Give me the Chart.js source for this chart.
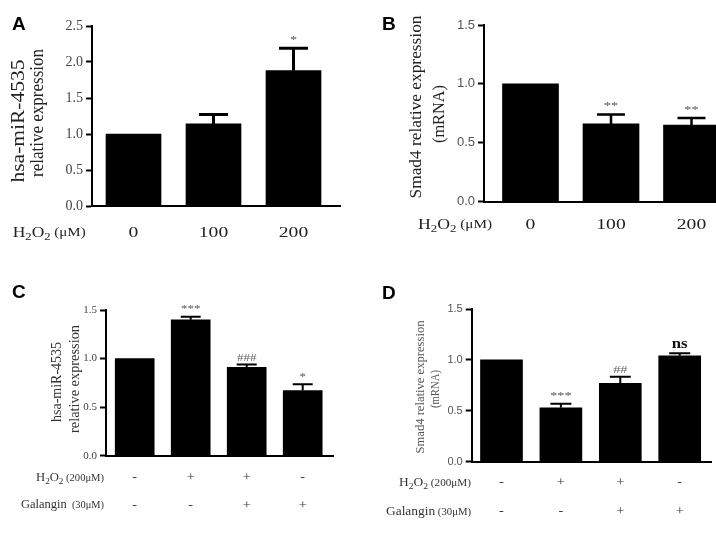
<!DOCTYPE html>
<html>
<head>
<meta charset="utf-8">
<script src="https://cdn.jsdelivr.net/npm/chart.js@4.4.1/dist/chart.umd.min.js"></script>
<style>
  html, body { margin: 0; padding: 0; background: #fff; }
  #wrap { position: relative; width: 716px; height: 536px; }
  #wrap canvas { position: absolute; left: 0; top: 0; }
</style>
</head>
<body>
<div id="wrap">
  <canvas id="panelA" width="716" height="536"></canvas>
  <canvas id="panelB" width="716" height="536"></canvas>
  <canvas id="panelC" width="716" height="536"></canvas>
  <canvas id="panelD" width="716" height="536"></canvas>
</div>
<script>
// A / B: H2O2 dose series
const doseLabels = ['0', '100', '200'];
const mirDose = [1.0, 1.14, 1.88];
const mirDoseSem = [0, 0.13, 0.31];
const mirDoseSig = ['', '', '*'];
const mirDoseTicks = [0, 0.5, 1.0, 1.5, 2.0, 2.5];

const smadDose = [1.0, 0.66, 0.65];
const smadDoseSem = [0, 0.08, 0.06];
const smadDoseSig = ['', '**', '**'];
const smadDoseTicks = [0, 0.5, 1.0, 1.5];

// C / D: H2O2 + galangin treatment
const h2o2Signs = ['-', '+', '+', '-'];
const galanginSigns = ['-', '-', '+', '+'];
const mirTreat = [1.0, 1.40, 0.91, 0.67];
const mirTreatSem = [0, 0.03, 0.03, 0.065];
const mirTreatSig = ['', '***', '###', '*'];
const smadTreat = [1.0, 0.53, 0.77, 1.04];
const smadTreatSem = [0, 0.04, 0.065, 0.025];
const smadTreatSig = ['', '***', '##', 'ns'];
const treatTicks = [0, 0.5, 1.0, 1.5];

const W = 716, H = 536;
const Y_W = 50, X_H = 2;
const SERIF = "'Liberation Serif', 'DejaVu Serif', serif";
const SANS = "'Liberation Sans', Arial, sans-serif";

function stretchText(ctx, s, x, y, font, color, align, sx) {
    ctx.save();
    ctx.font = font;
    ctx.fillStyle = color;
    ctx.textBaseline = 'middle';
    ctx.textAlign = 'left';
    const w = ctx.measureText(s).width * sx;
    const x0 = align === 'center' ? x - w / 2 : align === 'right' ? x - w : x;
    ctx.translate(x0, y);
    ctx.scale(sx, 1);
    ctx.fillText(s, 0, 0);
    ctx.restore();
}

function vText(ctx, s, cx, cy, font, color, len, thick) {
    ctx.save();
    ctx.font = font;
    ctx.fillStyle = color;
    ctx.textAlign = 'center';
    ctx.textBaseline = 'middle';
    const w = ctx.measureText(s).width;
    ctx.translate(cx, cy);
    ctx.rotate(-Math.PI / 2);
    ctx.scale(len / w, thick);
    ctx.fillText(s, 0, 0);
    ctx.restore();
}

// segments: [{t, size, dy}] drawn side by side, squeezed to width
function richText(ctx, segs, x, y, align, width, color) {
    ctx.save();
    ctx.fillStyle = color;
    ctx.textBaseline = 'middle';
    ctx.textAlign = 'left';
    let natural = 0;
    segs.forEach(sg => {
        ctx.font = sg.size + 'px ' + SERIF;
        sg.w = ctx.measureText(sg.t).width;
        natural += sg.w;
    });
    const sx = width / natural;
    let cx = align === 'right' ? x - width : x;
    segs.forEach(sg => {
        ctx.save();
        ctx.font = sg.size + 'px ' + SERIF;
        ctx.translate(cx, y + (sg.dy || 0));
        ctx.scale(sx, 1);
        ctx.fillText(sg.t, 0, 0);
        ctx.restore();
        cx += sg.w * sx;
    });
    ctx.restore();
}

function h2o2(size, unit, unitSize) {
    return [
        { t: 'H', size: size },
        { t: '2', size: size * 0.72, dy: size * 0.28 },
        { t: 'O', size: size },
        { t: '2', size: size * 0.72, dy: size * 0.28 },
        { t: ' ' + unit, size: unitSize }
    ];
}

function panelLetter(ctx, s, x, y) {
    ctx.save();
    ctx.font = 'bold 19px ' + SANS;
    ctx.fillStyle = '#000';
    ctx.textBaseline = 'alphabetic';
    ctx.fillText(s, x, y);
    ctx.restore();
}

function makePanel(id, p) {
    const decor = {
        id: 'decor' + id,
        afterDatasetsDraw(chart) {
            const ctx = chart.ctx;
            const xs = chart.scales.x, ys = chart.scales.y;
            ctx.save();
            ctx.strokeStyle = '#000';
            ctx.lineWidth = p.errW;
            p.mean.forEach((v, i) => {
                if (!p.sem[i]) return;
                const x = xs.getPixelForValue(i);
                const yb = ys.getPixelForValue(v);
                const yt = ys.getPixelForValue(v + p.sem[i]);
                ctx.beginPath();
                ctx.moveTo(x, yb);
                ctx.lineTo(x, yt);
                ctx.moveTo(x - p.capW / 2, yt);
                ctx.lineTo(x + p.capW / 2, yt);
                ctx.stroke();
            });
            ctx.restore();
        },
        afterDraw(chart) {
            const ctx = chart.ctx;
            const xs = chart.scales.x, ys = chart.scales.y;
            p.sig.forEach((s, i) => {
                if (!s) return;
                const x = xs.getPixelForValue(i);
                const yt = ys.getPixelForValue(p.mean[i] + p.sem[i]);
                const st = p.sigStyle(s);
                stretchText(ctx, s, x, yt - st.gap, st.font, st.color, 'center', st.sx);
            });
            p.decorate(ctx, xs);
        }
    };

    const a = p.area;
    return new Chart(document.getElementById(id), {
        type: 'bar',
        data: {
            datasets: [{
                data: p.mean.map((v, i) => ({ x: i, y: v })),
                backgroundColor: '#000',
                borderWidth: 0,
                barThickness: p.barW
            }]
        },
        options: {
            responsive: false,
            animation: false,
            layout: {
                padding: {
                    left: a.left - Y_W,
                    right: W - a.right,
                    top: a.top,
                    bottom: H - a.bottom - X_H
                }
            },
            plugins: { legend: { display: false }, tooltip: { enabled: false } },
            scales: {
                x: {
                    type: 'linear',
                    min: (a.left - p.x0) / p.step,
                    max: (a.right - p.x0) / p.step,
                    offset: false,
                    ticks: { display: false },
                    grid: { display: true, drawOnChartArea: false, drawTicks: false, offset: false },
                    border: { display: true, color: '#000', width: 2 },
                    afterFit: s => { s.height = X_H; }
                },
                y: {
                    min: p.ticks[0],
                    max: p.ticks[p.ticks.length - 1],
                    ticks: {
                        stepSize: p.ticks[1] - p.ticks[0],
                        font: p.yFont,
                        color: p.yColor,
                        padding: 3,
                        callback: v => v.toFixed(1)
                    },
                    grid: { drawOnChartArea: false, drawTicks: true, tickLength: 6, tickWidth: 2, tickColor: '#000' },
                    border: { display: true, color: '#000', width: 2 },
                    afterFit: s => { s.width = Y_W; }
                }
            }
        },
        plugins: [decor]
    });
}

const starStyle = (size, gap) => s => s === 'ns'
    ? { font: 'bold 14px ' + SERIF, color: '#111', sx: 1.2, gap: 9 }
    : s.charAt(0) === '#'
        ? { font: size + 'px ' + SERIF, color: '#666', sx: 1.3, gap: gap - 1 }
        : { font: size + 'px ' + SERIF, color: '#555', sx: 1.3, gap: gap };

makePanel('panelA', {
    mean: mirDose, sem: mirDoseSem, sig: mirDoseSig, ticks: mirDoseTicks,
    area: { left: 92, right: 340, top: 26, bottom: 206 },
    x0: 133.5, step: 80, barW: 55, errW: 3, capW: 29,
    yFont: { family: SERIF, size: 14 }, yColor: '#444',
    sigStyle: starStyle(11, 8),
    decorate(ctx, xs) {
        panelLetter(ctx, 'A', 12, 30);
        vText(ctx, 'hsa-miR-4535', 19, 121, '18px ' + SERIF, '#222', 123, 1.0);
        vText(ctx, 'relative expression', 38, 113, '18px ' + SERIF, '#222', 128, 1.0);
        doseLabels.forEach((t, i) =>
            stretchText(ctx, t, xs.getPixelForValue(i), 233, '14px ' + SERIF, '#222', 'center', 1.4));
        richText(ctx, h2o2(14, '(\u03bcM)', 12), 12.7, 233, 'left', 73, '#222');
    }
});

makePanel('panelB', {
    mean: smadDose, sem: smadDoseSem, sig: smadDoseSig, ticks: smadDoseTicks,
    area: { left: 484, right: 716, top: 25, bottom: 201.7 },
    x0: 530.5, step: 80.5, barW: 56, errW: 2.5, capW: 28,
    yFont: { family: SANS, size: 13 }, yColor: '#555',
    sigStyle: starStyle(11, 8),
    decorate(ctx, xs) {
        panelLetter(ctx, 'B', 382, 29.5);
        vText(ctx, 'Smad4 relative expression', 417, 107, '17px ' + SERIF, '#222', 183, 1.0);
        vText(ctx, '(mRNA)', 440, 114, '17px ' + SERIF, '#222', 58, 1.0);
        doseLabels.forEach((t, i) =>
            stretchText(ctx, t, xs.getPixelForValue(i), 225, '14px ' + SERIF, '#222', 'center', 1.4));
        richText(ctx, h2o2(14, '(\u03bcM)', 12), 418, 225, 'left', 74, '#222');
    }
});

makePanel('panelC', {
    mean: mirTreat, sem: mirTreatSem, sig: mirTreatSig, ticks: treatTicks,
    area: { left: 106, right: 333, top: 310, bottom: 455.7 },
    x0: 134.7, step: 56, barW: 39, errW: 2, capW: 20,
    yFont: { family: SERIF, size: 11 }, yColor: '#444',
    sigStyle: starStyle(10, 7),
    decorate(ctx, xs) {
        panelLetter(ctx, 'C', 12, 297.5);
        vText(ctx, 'hsa-miR-4535', 57, 382, '14px ' + SERIF, '#333', 80, 1.0);
        vText(ctx, 'relative expression', 75, 379, '14px ' + SERIF, '#333', 108, 1.0);
        richText(ctx, h2o2(12, '(200\u03bcM)', 10), 104, 478, 'right', 68, '#333');
        richText(ctx, [{ t: 'Galangin', size: 12 }, { t: '  (30\u03bcM)', size: 10 }], 104, 505, 'right', 83, '#333');
        h2o2Signs.forEach((t, i) =>
            stretchText(ctx, t, xs.getPixelForValue(i), 478, '12px ' + SERIF, '#333', 'center', 1.2));
        galanginSigns.forEach((t, i) =>
            stretchText(ctx, t, xs.getPixelForValue(i), 506, '12px ' + SERIF, '#333', 'center', 1.2));
    }
});

makePanel('panelD', {
    mean: smadTreat, sem: smadTreatSem, sig: smadTreatSig, ticks: treatTicks,
    area: { left: 471.7, right: 711.7, top: 309, bottom: 461.7 },
    x0: 501.5, step: 59.4, barW: 42, errW: 2, capW: 21,
    yFont: { family: SANS, size: 11 }, yColor: '#555',
    sigStyle: starStyle(11, 8),
    decorate(ctx, xs) {
        panelLetter(ctx, 'D', 382, 298.5);
        vText(ctx, 'Smad4 relative expression', 421, 387, '13px ' + SERIF, '#555', 133, 1.0);
        vText(ctx, '(mRNA)', 436, 389, '13px ' + SERIF, '#555', 38, 1.0);
        richText(ctx, h2o2(12, '(200\u03bcM)', 10), 471, 483, 'right', 72, '#333');
        richText(ctx, [{ t: 'Galangin', size: 12.5 }, { t: ' (30\u03bcM)', size: 10 }], 471, 512, 'right', 85, '#333');
        h2o2Signs.forEach((t, i) =>
            stretchText(ctx, t, xs.getPixelForValue(i), 483, '12px ' + SERIF, '#333', 'center', 1.2));
        galanginSigns.forEach((t, i) =>
            stretchText(ctx, t, xs.getPixelForValue(i), 512, '12px ' + SERIF, '#333', 'center', 1.2));
    }
});
</script>
</body>
</html>
